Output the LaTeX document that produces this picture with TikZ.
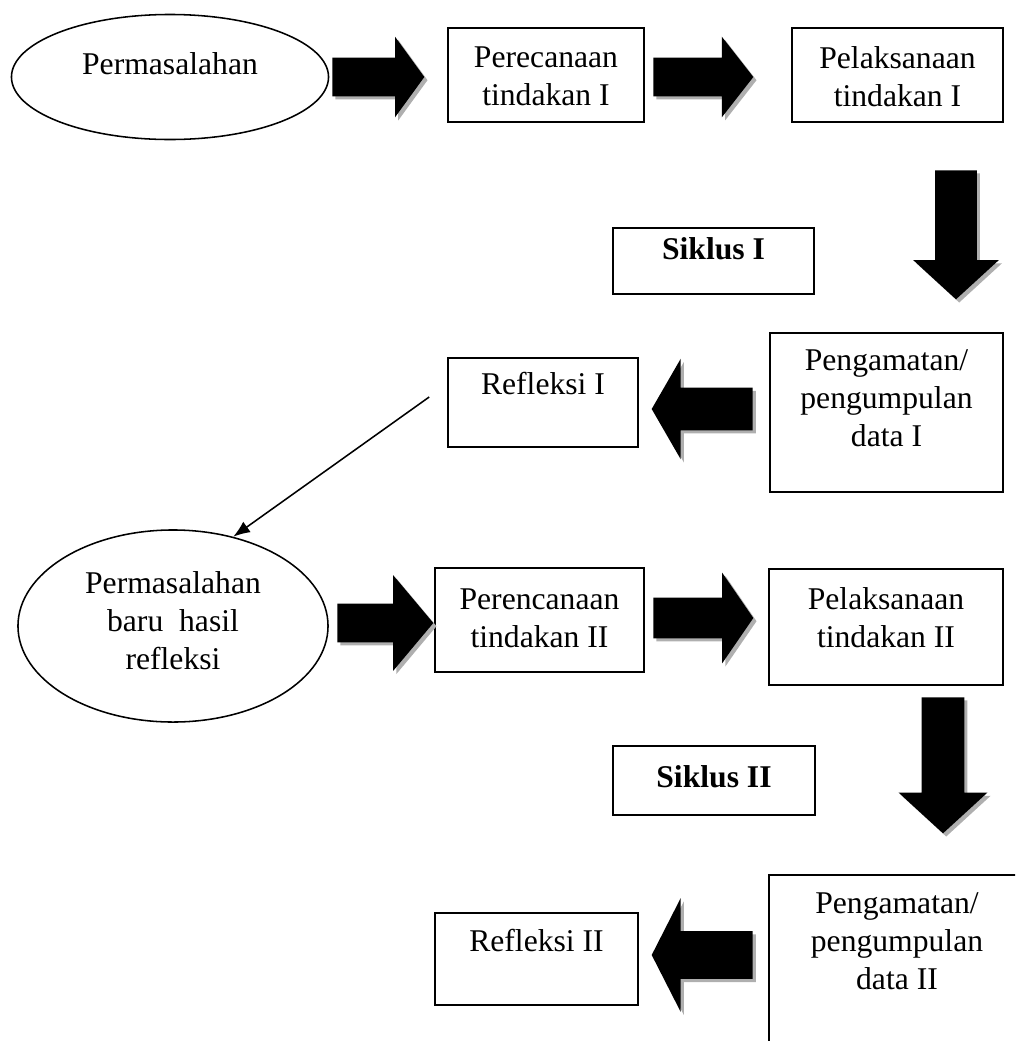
\documentclass[tikz,border=0pt]{standalone}
\usepackage{fontspec}
\setmainfont{Liberation Serif}
\usetikzlibrary{arrows.meta,positioning,calc,shapes.geometric,shapes.arrows,shadows}
\definecolor{bayang}{RGB}{175,175,175}

\begin{document}
\begin{tikzpicture}[x=0.025cm,y=-0.025cm,>={Latex[length=4.2mm,width=3.2mm]},
  font=\fontsize{22.5pt}{27pt}\selectfont,
  kotak/.style={draw,line width=1.1pt,inner sep=0pt},
  elips/.style={ellipse,draw,line width=1.1pt,inner sep=0pt},
  isi/.style={align=center,anchor=north,inner sep=0pt},
  panah/.style={single arrow,fill=black,inner xsep=0pt,anchor=tail,
    drop shadow={shadow xshift=0.08cm,shadow yshift=-0.08cm,fill=bayang,opacity=1}}]
  \useasboundingbox (0,0) rectangle (1015,1041);
  \clip (0,0) rectangle (1015,1041);

  % siklus I
  \node[elips,minimum width=7.925cm,minimum height=3.125cm,
    label={[isi,yshift=-0.975cm]north:Permasalahan}] (masalah1) at (170,77) {};
  \node[kotak,minimum width=4.9cm,minimum height=2.35cm,
    label={[isi,yshift=-0.475cm]north:Perecanaan\\tindakan I}] (rencana1) at (546,75) {};
  \node[kotak,minimum width=5.275cm,minimum height=2.35cm,
    label={[isi,yshift=-0.475cm]north:Pelaksanaan\\tindakan I}] (laksana1) at (897.5,75) {};
  \node[kotak,minimum width=5.025cm,minimum height=1.65cm,
    label={[isi,yshift=-0.25cm]north:\textbf{Siklus I}}] (siklus1) at (713.5,261) {};
  \node[kotak,minimum width=5.825cm,minimum height=3.975cm,
    label={[isi,yshift=-0.425cm]north:Pengamatan/\\pengumpulan\\data I}] (amat1) at (886.5,412.5) {};
  \node[kotak,minimum width=4.75cm,minimum height=2.225cm,
    label={[isi,yshift=-0.375cm]north:Refleksi I}] (refleksi1) at (543,402.5) {};

  \node[panah,minimum height=2.3cm,inner ysep=0.475cm,single arrow head extend=0.525cm,
    single arrow tip angle=108] (p1) at (332,77) {};
  \node[panah,minimum height=2.5cm,inner ysep=0.475cm,single arrow head extend=0.525cm,
    single arrow tip angle=104] (p2) at (653,77) {};
  \node[panah,minimum height=3.225cm,inner xsep=0.5125cm,inner ysep=0pt,single arrow head extend=0.55cm,
    single arrow tip angle=95,shape border rotate=270] (p3) at (956,170) {};
  \node[panah,minimum height=2.525cm,inner ysep=0.525cm,single arrow head extend=0.725cm,
    single arrow tip angle=120,shape border rotate=180] (p4) at (753,409) {};

  % siklus II
  \node[elips,minimum width=7.75cm,minimum height=4.8cm,
    label={[isi,yshift=-1.05cm]north:Permasalahan\\baru\ \ hasil\\refleksi}] (masalah2) at (173,626) {};
  \node[kotak,minimum width=5.225cm,minimum height=2.6cm,
    label={[isi,yshift=-0.525cm]north:Perencanaan\\tindakan II}] (rencana2) at (539.5,620) {};
  \node[kotak,minimum width=5.85cm,minimum height=2.9cm,
    label={[isi,yshift=-0.475cm]north:Pelaksanaan\\tindakan II}] (laksana2) at (886,627) {};
  \node[kotak,minimum width=5.05cm,minimum height=1.725cm,
    label={[isi,yshift=-0.5cm]north:\textbf{Siklus II}}] (siklus2) at (714,780.5) {};
  \node[kotak,minimum width=6.4cm,minimum height=5.375cm,
    label={[isi,yshift=-0.45cm]north:Pengamatan/\\pengumpulan\\data II}] (amat2) at (897,982.5) {};
  \node[kotak,minimum width=5.075cm,minimum height=2.3cm,
    label={[isi,yshift=-0.425cm]north:Refleksi II}] (refleksi2) at (536.5,959) {};

  \node[panah,minimum height=2.4cm,inner ysep=0.475cm,single arrow head extend=0.7125cm,
    single arrow tip angle=100] (p5) at (337,623) {};
  \node[panah,minimum height=2.5cm,inner ysep=0.5cm,single arrow head extend=0.625cm,
    single arrow tip angle=111] (p6) at (653,618) {};
  \node[panah,minimum height=3.4cm,inner xsep=0.525cm,inner ysep=0pt,single arrow head extend=0.575cm,
    single arrow tip angle=95,shape border rotate=270] (p7) at (943,697) {};
  \node[panah,minimum height=2.525cm,inner ysep=0.5875cm,single arrow head extend=0.825cm,
    single arrow tip angle=126,shape border rotate=180] (p8) at (753,955) {};

  \draw[->,line width=1.1pt] ([shift={(-18,-5.5)}]refleksi1.west) -- (masalah2.56);
\end{tikzpicture}
\end{document}
